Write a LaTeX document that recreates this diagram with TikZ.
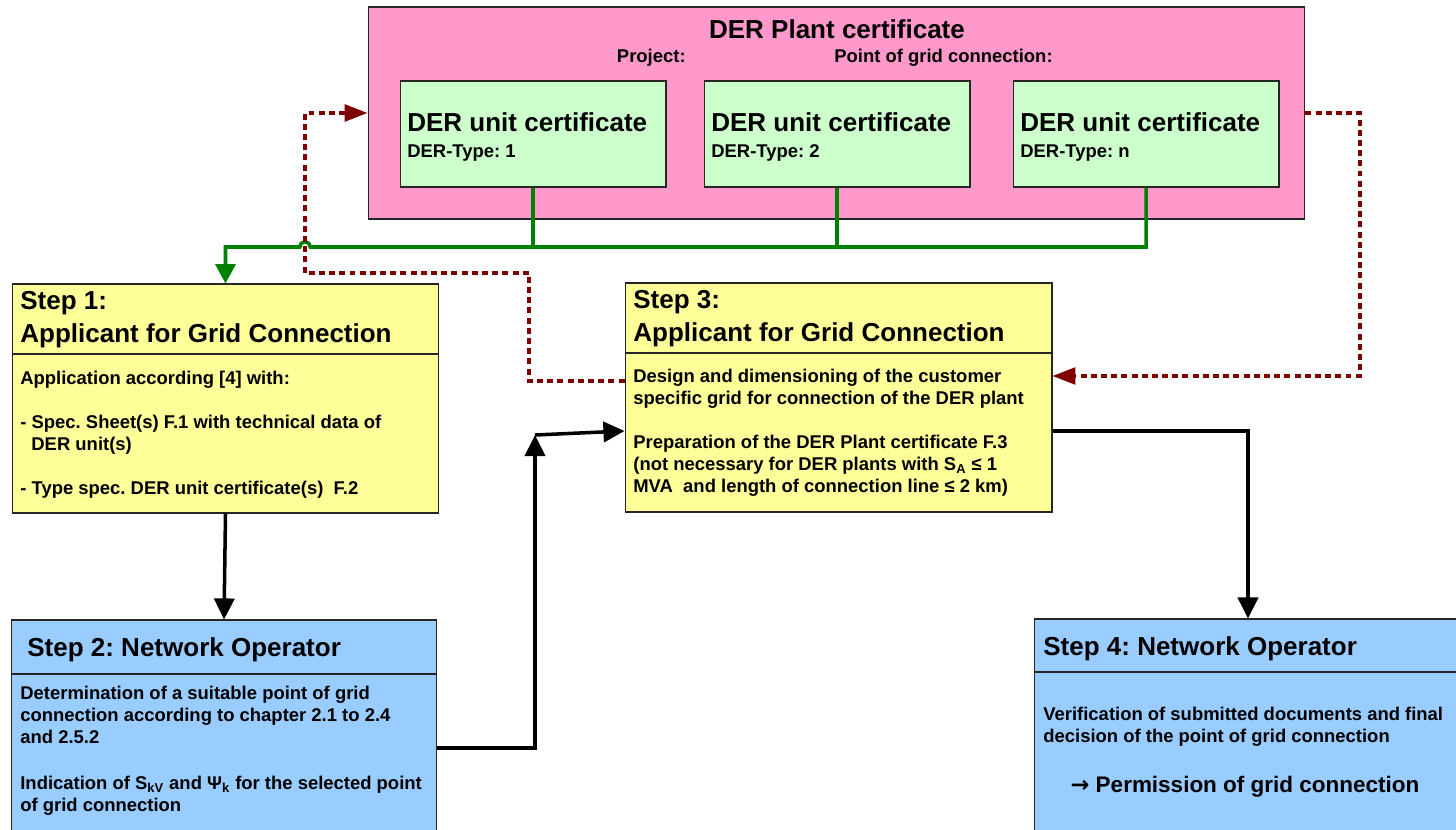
\documentclass[tikz,border=0pt]{standalone}
\usepackage{fontspec}
\setmainfont{Liberation Sans}
\newfontfamily\arrowfont{DejaVu Sans}
\usetikzlibrary{arrows.meta}
\frenchspacing

\definecolor{plantpink}{HTML}{FF99CC}
\definecolor{unitgreen}{HTML}{CCFFCC}
\definecolor{applyellow}{HTML}{FFFF99}
\definecolor{operblue}{HTML}{99CCFF}
\definecolor{certgreen}{HTML}{008000}
\definecolor{backred}{HTML}{800000}

\tikzset{
  plantbox/.style={draw=black!85, line width=0.6pt, fill=plantpink, inner sep=0pt},
  unitbox/.style={draw=black!85, line width=0.6pt, fill=unitgreen, inner sep=0pt},
  applbox/.style={draw=black!85, line width=0.6pt, fill=applyellow, inner sep=0pt},
  operbox/.style={draw=black!85, line width=0.6pt, fill=operblue, inner sep=0pt},
  bigtxt/.style={inner sep=0pt, align=left, font=\fontsize{14.8}{18.7}\selectfont\bfseries},
  bodytxt/.style={inner sep=0pt, align=left, font=\fontsize{10.5}{12.47}\selectfont\bfseries},
  permtxt/.style={inner sep=0pt, font=\fontsize{12.8}{15}\selectfont\bfseries},
  flowline/.style={line width=2pt, -{Triangle[length=12pt, width=11.5pt]}},
  certline/.style={line width=2pt, certgreen},
  backline/.style={line width=1.9pt, backred, dash pattern=on 3.4pt off 2.4pt,
    -{Triangle[length=13pt, width=9.5pt]}},
}

\begin{document}
\begin{tikzpicture}[x=0.02cm, y=-0.02cm]
    \useasboundingbox (0,0) rectangle (1456,830);
    % DER Plant certificate
    \node[plantbox, minimum width=18.74cm, minimum height=4.24cm] (plant) at (836.5,113) {};
    \node[bigtxt, anchor=base] (planttitle) at (837,38.5) {DER Plant certificate};
    \node[bodytxt, anchor=base east] (project) at (686,62.5) {Project:};
    \node[bodytxt, anchor=base west] (gridpoint) at (834,62.5) {Point of grid connection:};
    % DER unit certificates
    \node[unitbox, minimum width=5.32cm, minimum height=2.12cm] (unit1) at (533,134) {};
    \node[unitbox, minimum width=5.32cm, minimum height=2.12cm] (unit2) at (837,134) {};
    \node[unitbox, minimum width=5.32cm, minimum height=2.12cm] (unitn) at (1146,134) {};
    \node[bigtxt, anchor=base west] (unit1title) at (407,131.5) {DER unit certificate};
    \node[bodytxt, anchor=base west] (unit1type) at (407,157.5) {DER-Type: 1};
    \node[bigtxt, anchor=base west] (unit2title) at (711,131.5) {DER unit certificate};
    \node[bodytxt, anchor=base west] (unit2type) at (711,157.5) {DER-Type: 2};
    \node[bigtxt, anchor=base west] (unitntitle) at (1020,131.5) {DER unit certificate};
    \node[bodytxt, anchor=base west] (unitntype) at (1020,157.5) {DER-Type: n};
    %
    % Step 1: applicant (text nodes sit on their last baseline)
    \node[applbox, minimum width=8.54cm, minimum height=4.58cm] (step1) at (225.5,398.5) {};
    \draw[line width=0.6pt, black!85] (step1.west |- 0,354) -- (step1.east |- 0,354);
    \node[bigtxt, anchor=base west] (step1head) at (20,342.5) {Step 1:\\Applicant for Grid Connection};
    \node[bodytxt, anchor=base west] (step1body) at (20,494.5) {Application according [4] with:\\[12.47pt]
      - Spec. Sheet(s) F.1 with technical data of\\\hspace*{0.6em}DER unit(s)\\[12.47pt]
      - Type spec. DER unit certificate(s)\ \ F.2};
    % Step 3: applicant
    \node[applbox, minimum width=8.54cm, minimum height=4.58cm] (step3) at (838.5,397.5) {};
    \draw[line width=0.6pt, black!85] (step3.west |- 0,353) -- (step3.east |- 0,353);
    \node[bigtxt, anchor=base west] (step3head) at (633,341.5) {Step 3:\\Applicant for Grid Connection};
    \node[bodytxt, anchor=base west] (step3body) at (633,492.5) {Design and dimensioning of the customer\\
      specific grid for connection of the DER plant\\[12.47pt]
      Preparation of the DER Plant certificate F.3\\
      (not necessary for DER plants with S\textsubscript{A} ≤ 1\\
      MVA\ \ and length of connection line ≤ 2 km)};
    % Step 2: network operator
    \node[operbox, minimum width=8.52cm, minimum height=4.28cm] (step2) at (224,727) {};
    \draw[line width=0.6pt, black!85] (step2.west |- 0,674) -- (step2.east |- 0,674);
    \node[bigtxt, anchor=base west] (step2head) at (27,656.5) {Step 2: Network Operator};
    \node[bodytxt, anchor=base west] (step2body) at (20,811.5) {Determination of a suitable point of grid\\
      connection according to chapter 2.1 to 2.4\\
      and 2.5.2\\[14pt]
      Indication of S\textsubscript{kV} and Ψ\textsubscript{k} for the selected point\\
      of grid connection};
    % Step 4: network operator
    \node[operbox, minimum width=8.56cm, minimum height=4.3cm] (step4) at (1248,726.5) {};
    \draw[line width=0.6pt, black!85] (step4.west |- 0,672) -- (step4.east |- 0,672);
    \node[bigtxt, anchor=base west] (step4head) at (1043,655.5) {Step 4: Network Operator};
    \node[bodytxt, anchor=base west] (step4body) at (1043,742.5) {Verification of submitted documents and final\\
      decision of the point of grid connection};
    \node[permtxt, anchor=base] (permission) at (1245,792) {{\arrowfont →} Permission of grid connection};
    %
    % Unit certificates to the applicant
    \draw[certline] (unit1.south) -- (unit1.south |- 0,247);
    \draw[certline] (unit2.south) -- (unit2.south |- 0,247);
    \draw[certline, -{Triangle[length=11pt, width=11.3pt]}] (unitn.south) |- (310.3,247)
      arc[start angle=0, end angle=180, radius=3pt] -- (step1.north |- 0,247) -- (step1.north);
    % Feedback between plant certificate and step 3
    \draw[backline] (step3.west |- 0,381) -| (529,273) -| (305,113) -- (plant.west |- 0,113);
    \draw[backline] (plant.east |- 0,113) -| (1360,376) -- (step3.east |- 0,376);
    %
    % Process flow
    \coordinate (turn) at (535,435);
    \draw[flowline] (step1.south) -- (step2.north);
    \draw[flowline] (step2.east |- 0,748) -| (turn);
    \draw[flowline] (turn) -- (step3.west |- 0,431);
    \draw[flowline] (step3.east |- 0,431) -| (step4.north);
\end{tikzpicture}
\end{document}
